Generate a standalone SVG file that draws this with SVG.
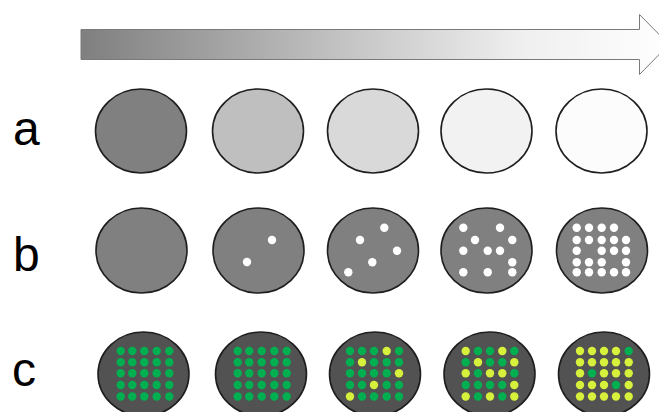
<svg xmlns="http://www.w3.org/2000/svg" width="659" height="412" viewBox="0 0 659 412">
<defs>
<linearGradient id="ag" x1="81" y1="0" x2="669" y2="0" gradientUnits="userSpaceOnUse">
<stop offset="0" stop-color="#7f7f7f"/>
<stop offset="0.45" stop-color="#c4c4c4"/>
<stop offset="0.75" stop-color="#efefef"/>
<stop offset="1" stop-color="#ffffff"/>
</linearGradient>
<style>
.lbl{font-family:"Liberation Sans",Arial,sans-serif;font-size:48px;fill:#000}
.c{stroke:#1e1e1e;stroke-width:1.6}
.gb{fill:#808080}
.gc{fill:#525252}
.w{fill:#fff}
.g{fill:#00b050}
.y{fill:#d6f03c}
</style>
</defs>
<rect width="659" height="412" fill="#fff"/>
<g id="arrow">
<path d="M81,29.5 H639.5 V14.5 L669,44.5 L639.5,74.5 V59.5 H81 Z" fill="url(#ag)" stroke="#7a7a7a" stroke-width="1"/>
</g>
<g id="labels">
<text class="lbl" x="13" y="145">a</text>
<text class="lbl" x="13" y="271">b</text>
<text class="lbl" x="12" y="386">c</text>
</g>
<g id="row-a">
<g id="a1"><ellipse class="c" cx="141" cy="131" rx="45.5" ry="42" fill="#808080"/></g>
<g id="a2"><ellipse class="c" cx="258" cy="131" rx="45.5" ry="42" fill="#bfbfbf"/></g>
<g id="a3"><ellipse class="c" cx="373" cy="131" rx="45.5" ry="42" fill="#d9d9d9"/></g>
<g id="a4"><ellipse class="c" cx="486.5" cy="131" rx="45.5" ry="42" fill="#f2f2f2"/></g>
<g id="a5"><ellipse class="c" cx="601.5" cy="131" rx="45.5" ry="42" fill="#fcfcfc"/></g>
</g>
<g id="row-b">
<g id="b1"><ellipse class="c gb" cx="141.5" cy="250.5" rx="45.5" ry="42.5"/></g>
<g id="b2"><ellipse class="c gb" cx="258.5" cy="250.5" rx="45.5" ry="42.5"/>
<circle class="w" cx="272" cy="240" r="4.2"/><circle class="w" cx="247" cy="262" r="4.2"/></g>
<g id="b3"><ellipse class="c gb" cx="373" cy="250.5" rx="45.5" ry="42.5"/>
<circle class="w" cx="348.3" cy="272.3" r="4.2"/><circle class="w" cx="360" cy="240" r="4.2"/><circle class="w" cx="384.3" cy="227.7" r="4.2"/><circle class="w" cx="397" cy="250.7" r="4.2"/><circle class="w" cx="372.3" cy="262.3" r="4.2"/></g>
<g id="b4"><ellipse class="c gb" cx="486.5" cy="250.5" rx="45.5" ry="42.5"/>
<circle class="w" cx="463.3" cy="227.7" r="4.2"/><circle class="w" cx="500" cy="227.7" r="4.2"/><circle class="w" cx="475" cy="240" r="4.2"/><circle class="w" cx="512.3" cy="240" r="4.2"/><circle class="w" cx="463.3" cy="250.7" r="4.2"/><circle class="w" cx="487.7" cy="250.7" r="4.2"/><circle class="w" cx="500" cy="250.7" r="4.2"/><circle class="w" cx="512.3" cy="262.3" r="4.2"/><circle class="w" cx="463.3" cy="272.3" r="4.2"/><circle class="w" cx="487.7" cy="272.3" r="4.2"/><circle class="w" cx="512.3" cy="272.3" r="4.2"/></g>
<g id="b5"><ellipse class="c gb" cx="602" cy="250.5" rx="45.5" ry="42.5"/>
<circle class="w" cx="576.7" cy="227.7" r="4.2"/><circle class="w" cx="589" cy="227.7" r="4.2"/><circle class="w" cx="601.7" cy="227.7" r="4.2"/><circle class="w" cx="614" cy="227.7" r="4.2"/>
<circle class="w" cx="576.7" cy="240" r="4.2"/><circle class="w" cx="589" cy="240" r="4.2"/><circle class="w" cx="601.7" cy="240" r="4.2"/><circle class="w" cx="614" cy="240" r="4.2"/><circle class="w" cx="626" cy="240" r="4.2"/>
<circle class="w" cx="576.7" cy="250.7" r="4.2"/><circle class="w" cx="601.7" cy="250.7" r="4.2"/><circle class="w" cx="614" cy="250.7" r="4.2"/><circle class="w" cx="626" cy="250.7" r="4.2"/>
<circle class="w" cx="576.7" cy="262.3" r="4.2"/><circle class="w" cx="589" cy="262.3" r="4.2"/><circle class="w" cx="601.7" cy="262.3" r="4.2"/><circle class="w" cx="626" cy="262.3" r="4.2"/>
<circle class="w" cx="576.7" cy="272.3" r="4.2"/><circle class="w" cx="589" cy="272.3" r="4.2"/><circle class="w" cx="601.7" cy="272.3" r="4.2"/><circle class="w" cx="614" cy="272.3" r="4.2"/><circle class="w" cx="626" cy="272.3" r="4.2"/></g>
</g>
<g id="row-c">
<g id="c1"><ellipse class="c gc" cx="143.5" cy="374" rx="45.5" ry="42"/>
<g class="g">
<circle cx="120.7" cy="351" r="4.2"/><circle cx="132.3" cy="351" r="4.2"/><circle cx="144.3" cy="351" r="4.2"/><circle cx="156.7" cy="351" r="4.2"/><circle cx="169.3" cy="351" r="4.2"/>
<circle cx="120.7" cy="362.3" r="4.2"/><circle cx="132.3" cy="362.3" r="4.2"/><circle cx="144.3" cy="362.3" r="4.2"/><circle cx="156.7" cy="362.3" r="4.2"/><circle cx="169.3" cy="362.3" r="4.2"/>
<circle cx="120.7" cy="373.3" r="4.2"/><circle cx="132.3" cy="373.3" r="4.2"/><circle cx="144.3" cy="373.3" r="4.2"/><circle cx="156.7" cy="373.3" r="4.2"/><circle cx="169.3" cy="373.3" r="4.2"/>
<circle cx="120.7" cy="385" r="4.2"/><circle cx="132.3" cy="385" r="4.2"/><circle cx="144.3" cy="385" r="4.2"/><circle cx="156.7" cy="385" r="4.2"/><circle cx="169.3" cy="385" r="4.2"/>
<circle cx="120.7" cy="396.5" r="4.2"/><circle cx="132.3" cy="396.5" r="4.2"/><circle cx="144.3" cy="396.5" r="4.2"/><circle cx="156.7" cy="396.5" r="4.2"/><circle cx="169.3" cy="396.5" r="4.2"/>
</g></g>
<g id="c2"><ellipse class="c gc" cx="261" cy="374" rx="45.5" ry="42"/>
<g class="g">
<circle cx="237.7" cy="351" r="4.2"/><circle cx="249.3" cy="351" r="4.2"/><circle cx="261.7" cy="351" r="4.2"/><circle cx="274.3" cy="351" r="4.2"/><circle cx="286.7" cy="351" r="4.2"/>
<circle cx="237.7" cy="362.3" r="4.2"/><circle cx="249.3" cy="362.3" r="4.2"/><circle cx="261.7" cy="362.3" r="4.2"/><circle cx="274.3" cy="362.3" r="4.2"/><circle cx="286.7" cy="362.3" r="4.2"/>
<circle cx="237.7" cy="373.3" r="4.2"/><circle cx="249.3" cy="373.3" r="4.2"/><circle cx="261.7" cy="373.3" r="4.2"/><circle cx="274.3" cy="373.3" r="4.2"/><circle cx="286.7" cy="373.3" r="4.2"/>
<circle cx="237.7" cy="385" r="4.2"/><circle cx="249.3" cy="385" r="4.2"/><circle cx="261.7" cy="385" r="4.2"/><circle cx="274.3" cy="385" r="4.2"/><circle cx="286.7" cy="385" r="4.2"/>
<circle cx="237.7" cy="396.5" r="4.2"/><circle cx="249.3" cy="396.5" r="4.2"/><circle cx="261.7" cy="396.5" r="4.2"/><circle cx="274.3" cy="396.5" r="4.2"/><circle cx="286.7" cy="396.5" r="4.2"/>
</g></g>
<g id="c3"><ellipse class="c gc" cx="375" cy="374" rx="45.5" ry="42"/>
<circle class="g" cx="350" cy="351" r="4.2"/><circle class="g" cx="362" cy="351" r="4.2"/><circle class="g" cx="374" cy="351" r="4.2"/><circle class="y" cx="386.7" cy="351" r="4.2"/><circle class="g" cx="399" cy="351" r="4.2"/>
<circle class="g" cx="350" cy="362.3" r="4.2"/><circle class="y" cx="362" cy="362.3" r="4.2"/><circle class="g" cx="374" cy="362.3" r="4.2"/><circle class="g" cx="386.7" cy="362.3" r="4.2"/><circle class="g" cx="399" cy="362.3" r="4.2"/>
<circle class="g" cx="350" cy="373.3" r="4.2"/><circle class="g" cx="362" cy="373.3" r="4.2"/><circle class="g" cx="374" cy="373.3" r="4.2"/><circle class="g" cx="386.7" cy="373.3" r="4.2"/><circle class="y" cx="399" cy="373.3" r="4.2"/>
<circle class="g" cx="350" cy="385" r="4.2"/><circle class="g" cx="362" cy="385" r="4.2"/><circle class="y" cx="374" cy="385" r="4.2"/><circle class="g" cx="386.7" cy="385" r="4.2"/><circle class="g" cx="399" cy="385" r="4.2"/>
<circle class="y" cx="350" cy="396.5" r="4.2"/><circle class="g" cx="362" cy="396.5" r="4.2"/><circle class="g" cx="374" cy="396.5" r="4.2"/><circle class="g" cx="386.7" cy="396.5" r="4.2"/><circle class="g" cx="399" cy="396.5" r="4.2"/>
</g>
<g id="c4"><ellipse class="c gc" cx="489.5" cy="374" rx="45.5" ry="42"/>
<circle class="y" cx="465.7" cy="351" r="4.2"/><circle class="g" cx="478" cy="351" r="4.2"/><circle class="g" cx="490" cy="351" r="4.2"/><circle class="y" cx="502.3" cy="351" r="4.2"/><circle class="g" cx="514.3" cy="351" r="4.2"/>
<circle class="g" cx="465.7" cy="362.3" r="4.2"/><circle class="y" cx="478" cy="362.3" r="4.2"/><circle class="g" cx="490" cy="362.3" r="4.2"/><circle class="g" cx="502.3" cy="362.3" r="4.2"/><circle class="y" cx="514.3" cy="362.3" r="4.2"/>
<circle class="y" cx="465.7" cy="373.3" r="4.2"/><circle class="g" cx="478" cy="373.3" r="4.2"/><circle class="y" cx="490" cy="373.3" r="4.2"/><circle class="y" cx="502.3" cy="373.3" r="4.2"/><circle class="g" cx="514.3" cy="373.3" r="4.2"/>
<circle class="g" cx="465.7" cy="385" r="4.2"/><circle class="g" cx="478" cy="385" r="4.2"/><circle class="g" cx="490" cy="385" r="4.2"/><circle class="g" cx="502.3" cy="385" r="4.2"/><circle class="y" cx="514.3" cy="385" r="4.2"/>
<circle class="y" cx="465.7" cy="396.5" r="4.2"/><circle class="g" cx="478" cy="396.5" r="4.2"/><circle class="y" cx="490" cy="396.5" r="4.2"/><circle class="g" cx="502.3" cy="396.5" r="4.2"/><circle class="y" cx="514.3" cy="396.5" r="4.2"/>
</g>
<g id="c5"><ellipse class="c gc" cx="604" cy="374" rx="45.5" ry="42"/>
<circle class="y" cx="580" cy="351" r="4.2"/><circle class="y" cx="592" cy="351" r="4.2"/><circle class="y" cx="604" cy="351" r="4.2"/><circle class="y" cx="616" cy="351" r="4.2"/><circle class="g" cx="628.7" cy="351" r="4.2"/>
<circle class="y" cx="580" cy="362.3" r="4.2"/><circle class="y" cx="592" cy="362.3" r="4.2"/><circle class="y" cx="604" cy="362.3" r="4.2"/><circle class="y" cx="616" cy="362.3" r="4.2"/><circle class="y" cx="628.7" cy="362.3" r="4.2"/>
<circle class="y" cx="580" cy="373.3" r="4.2"/><circle class="g" cx="592" cy="373.3" r="4.2"/><circle class="y" cx="604" cy="373.3" r="4.2"/><circle class="y" cx="616" cy="373.3" r="4.2"/><circle class="y" cx="628.7" cy="373.3" r="4.2"/>
<circle class="y" cx="580" cy="385" r="4.2"/><circle class="y" cx="592" cy="385" r="4.2"/><circle class="y" cx="604" cy="385" r="4.2"/><circle class="g" cx="616" cy="385" r="4.2"/><circle class="y" cx="628.7" cy="385" r="4.2"/>
<circle class="y" cx="580" cy="396.5" r="4.2"/><circle class="y" cx="592" cy="396.5" r="4.2"/><circle class="y" cx="604" cy="396.5" r="4.2"/><circle class="y" cx="616" cy="396.5" r="4.2"/><circle class="y" cx="628.7" cy="396.5" r="4.2"/>
</g>
</g>
</svg>
